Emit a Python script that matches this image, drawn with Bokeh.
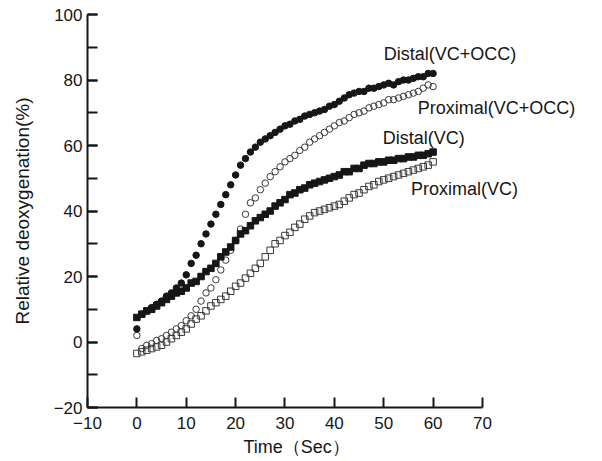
from bokeh.plotting import figure
from bokeh.models import SingleIntervalTicker, Title, ColumnDataSource
from bokeh.core.properties import value
from bokeh.embed import file_html
from bokeh.resources import INLINE

# time in seconds
time_s = [0, 1, 2, 3, 4, 5, 6, 7, 8, 9, 10, 11, 12, 13, 14, 15, 16, 17, 18, 19, 20,
          21, 22, 23, 24, 25, 26, 27, 28, 29, 30, 31, 32, 33, 34, 35, 36, 37, 38, 39, 40,
          41, 42, 43, 44, 45, 46, 47, 48, 49, 50, 51, 52, 53, 54, 55, 56, 57, 58, 59, 60]

distal_vc_occ = [4, 8.5, 9.5, 10.5, 11.5, 12.5, 14, 15, 16.5, 18, 20.5,
                 24, 26.5, 30, 33, 36, 39, 42, 45, 48, 51,
                 54, 56, 58, 59.5, 61, 62, 63, 64, 65, 66,
                 66.5, 67.5, 68, 69, 69.5, 70, 70.5, 71, 72, 72.5,
                 73.5, 74.5, 75.5, 76, 76.5, 76.5, 77.5, 77.5, 78, 78.5,
                 79, 78.5, 79.5, 80, 80, 80.5, 81, 81, 82, 82]

proximal_vc_occ = [2, -2, -1, -0.5, 0.5, 1, 2, 3, 4, 5, 6.5,
                   8, 10, 12.5, 15, 16.5, 19, 22, 25, 28, 31,
                   34.5, 39, 42.5, 44, 46.5, 48.5, 50.5, 52, 53.5, 55,
                   56, 57, 58.5, 59.5, 61, 62, 63, 64, 65, 66,
                   67, 67.5, 68.5, 69.5, 70, 70.5, 71.5, 72, 72.5, 73,
                   74, 74, 74.5, 75, 75.5, 76, 76.5, 77.5, 78.5, 78]

distal_vc = [7.5, 8.5, 9.5, 10, 11, 12, 13, 14, 15, 15.5, 16.5,
             18, 18.5, 20, 21.5, 22.5, 24, 26, 27.5, 29, 31,
             33, 34, 35.5, 37, 38, 39, 40, 41.5, 42.5, 43.5,
             45, 45.5, 46.5, 47, 48, 48.5, 49, 49.5, 50, 50.5,
             51, 52, 52, 53, 53, 54, 54.5, 54.5, 55, 55,
             55.5, 55.5, 56, 56, 56.5, 56.5, 57, 57, 57.5, 58]

proximal_vc = [-3.5, -3, -2.5, -2, -1.5, -1, 0, 1, 2, 3, 4,
               5.5, 7, 8, 9.5, 11, 12, 13, 14, 15.5, 17,
               18, 19.5, 21, 22.5, 24, 26, 28, 30, 31, 32.5,
               33.5, 35, 36, 37.5, 38.5, 39.5, 40, 40.5, 41, 41.5,
               42, 43, 44, 45, 45.5, 46.5, 47.5, 48, 49, 49.5,
               50, 50.5, 51, 51.5, 52, 52.5, 53, 53.5, 54, 55]

series_names = ["Distal(VC+OCC)", "Proximal(VC+OCC)", "Distal(VC)", "Proximal(VC)"]
label_x = [50.0, 56.9, 49.8, 55.5]
label_y = [87.9, 71.6, 62.4, 46.8]

x_ticks_range = (-10, 70)
y_ticks_range = (-20, 100)

FONT = "Liberation Sans"
INK = "#161616"

p = figure(frame_width=513, frame_height=393,
           x_range=(-10, 93.9), y_range=(-20, 100),
           output_backend="svg", toolbar_location=None,
           min_border_left=87, min_border_right=2,
           min_border_top=14, min_border_bottom=54)
p.outline_line_color = None
p.grid.visible = False
p.background_fill_color = "white"
p.border_fill_color = "white"

# markers
p.scatter(time_s, proximal_vc, marker="square", size=6.5, fill_color=None,
          line_color="#3a3a3a", line_width=1)
p.scatter(time_s, proximal_vc_occ, marker="circle", size=6.5, fill_color=None,
          line_color="#3a3a3a", line_width=1)
p.scatter(time_s, distal_vc, marker="square", size=6.5, fill_color=INK,
          line_color=INK)
p.scatter(time_s, distal_vc_occ, marker="circle", size=6.5, fill_color=INK,
          line_color=INK)

src = ColumnDataSource(dict(x=label_x, y=label_y, t=series_names))
p.text(x="x", y="y", text="t", source=src, text_font=value(FONT),
       text_font_size="18px", text_color=INK, text_align="left",
       text_baseline="middle")

# axes
xa = p.xaxis[0]
xa.ticker = SingleIntervalTicker(interval=10, num_minor_ticks=0)
xa.bounds = x_ticks_range
ya = p.yaxis[0]
ya.ticker = SingleIntervalTicker(interval=20, num_minor_ticks=2)
ya.bounds = y_ticks_range
for ax in (xa, ya):
    ax.axis_line_width = 2
    ax.axis_line_color = INK
    ax.major_tick_in = 10
    ax.major_tick_out = 0
    ax.major_tick_line_width = 2
    ax.major_tick_line_color = INK
    ax.minor_tick_in = 10
    ax.minor_tick_out = 0
    ax.minor_tick_line_width = 2
    ax.minor_tick_line_color = INK
    ax.major_label_text_font = FONT
    ax.major_label_text_font_size = "17px"
    ax.major_label_text_color = INK
    ax.axis_label_text_font = FONT
    ax.axis_label_text_font_style = "normal"
    ax.axis_label_text_color = INK
ya.major_label_standoff = 5
xa.major_label_standoff = 9
ya.axis_label = "Relative deoxygenation(%)"
ya.axis_label_text_font_size = "19px"
ya.axis_label_standoff = 18

xtitle = Title(text="Time（Sec）", align="left", offset=156,
               text_font=FONT, text_font_size="18px", text_font_style="normal",
               text_color=INK, standoff=7)
p.add_layout(xtitle, "below")

open("out.html", "w").write(file_html(p, INLINE))
